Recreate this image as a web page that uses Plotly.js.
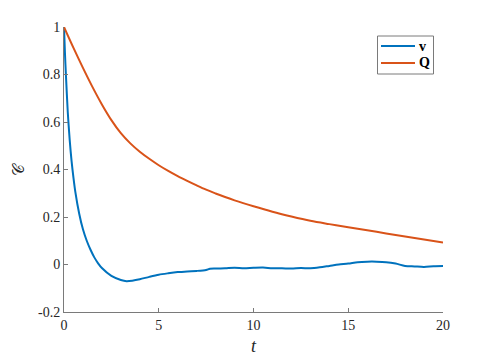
<!DOCTYPE html>
<html>
<head>
<meta charset="utf-8">
<script src="https://cdn.plot.ly/plotly-3.0.1.min.js"></script>
<style>
  body { margin: 0; background: #fff; }
  #plot { width: 491px; height: 362px; }
</style>
</head>
<body>
<div id="plot"></div>
<script>
// correlation of v over time
var tV = [0, 0.05, 0.1, 0.2, 0.3, 0.4, 0.5, 0.6, 0.8, 1.0, 1.2, 1.4, 1.6, 1.8, 2.0, 2.5, 3.0, 3.3, 3.6, 4.0, 4.5,
          5.0, 5.5, 6.0, 6.5, 7.0, 7.5, 7.7, 8.0, 8.5, 9.0, 9.5, 10.0, 10.5, 11.0, 11.5, 12.0, 12.5, 13.0,
          13.5, 14.0, 14.5, 15.0, 15.5, 16.0, 16.5, 17.0, 17.5, 18.0, 18.5, 19.0, 19.5, 20.0];
var cV = [1.0, 0.89, 0.8, 0.64, 0.525, 0.435, 0.365, 0.305, 0.215, 0.148, 0.10, 0.062, 0.03, 0.005, -0.015, -0.048, -0.065, -0.07, -0.068, -0.062, -0.052,
          -0.043, -0.037, -0.032, -0.029, -0.027, -0.023, -0.018, -0.017, -0.016, -0.014, -0.016, -0.014, -0.013, -0.016, -0.016, -0.017, -0.015, -0.016,
          -0.012, -0.006, 0.0, 0.004, 0.01, 0.012, 0.012, 0.01, 0.004, -0.006, -0.008, -0.01, -0.007, -0.006];

// correlation of Q over time
var tQ = [0, 0.5, 1, 1.5, 2, 2.5, 3, 3.5, 4, 4.5, 5, 5.5, 6, 6.5, 7, 7.5, 8, 8.5, 9, 10, 11, 12, 13, 14, 15, 16, 17, 18, 19, 20];
var cQ = [1.0, 0.912, 0.828, 0.748, 0.674, 0.608, 0.553, 0.510, 0.475, 0.445, 0.418, 0.394, 0.372, 0.352, 0.333, 0.315,
          0.299, 0.284, 0.270, 0.245, 0.222, 0.202, 0.184, 0.170, 0.157, 0.144, 0.131, 0.118, 0.105, 0.093];

var seriesNames = ['v', 'Q'];
var seriesColors = ['#0072BD', '#D95319'];

var xTicks = [0, 5, 10, 15, 20];
var yTicks = [-0.2, 0, 0.2, 0.4, 0.6, 0.8, 1];
var yTickText = ['-0.2', '0', '0.2', '0.4', '0.6', '0.8', '1'];

var serif = 'Liberation Serif';

var traceV = {
    x: tV,
    y: cV,
    mode: 'lines',
    name: seriesNames[0],
    line: {color: seriesColors[0], width: 2, shape: 'spline', smoothing: 0.8}
};

var traceQ = {
    x: tQ,
    y: cQ,
    mode: 'lines',
    name: seriesNames[1],
    line: {color: seriesColors[1], width: 2, shape: 'spline', smoothing: 1}
};

var data = [traceV, traceQ];

// legend drawn by hand so the box is as compact as the original
// (pixel positions converted to paper coords: plot area is 64..443 x 27..312)
var px = x => (x - 64) / 379;
var py = y => (312 - y) / 285;
var shapes = [
    {type: 'rect', xref: 'paper', yref: 'paper', x0: px(377.5), x1: px(433.5), y0: py(74), y1: py(36),
     line: {color: '#7a7a7a', width: 1}, fillcolor: '#fff'}
];
var annotations = [];
[46, 63].forEach(function (ly, i) {
    shapes.push({type: 'line', xref: 'paper', yref: 'paper', x0: px(381), x1: px(415), y0: py(ly), y1: py(ly),
                 line: {color: seriesColors[i], width: 2}});
    annotations.push({xref: 'paper', yref: 'paper', x: px(417), y: py(ly), xanchor: 'left', yanchor: 'middle',
                      text: '<b>' + seriesNames[i] + '</b>', showarrow: false,
                      font: {family: serif, size: 14, color: '#000'}});
});

var layout = {
    width: 491,
    height: 362,
    margin: {l: 64, r: 48, t: 27, b: 50},
    paper_bgcolor: '#fff',
    plot_bgcolor: '#fff',
    font: {family: serif, size: 14, color: '#262626'},
    showlegend: false,
    shapes: shapes,
    annotations: annotations,
    xaxis: {
        range: [0, 20],
        tickvals: xTicks,
        tickfont: {family: serif, size: 14},
        ticks: 'inside', ticklen: 4, tickcolor: '#7a7a7a',
        showline: true, linecolor: '#7a7a7a', linewidth: 1,
        showgrid: false, zeroline: false,
        title: {text: '<i>t</i>', font: {family: serif, size: 18}, standoff: 7}
    },
    yaxis: {
        range: [-0.2, 1],
        tickvals: yTicks,
        ticktext: yTickText,
        tickfont: {family: serif, size: 14},
        ticks: 'inside', ticklen: 4, tickcolor: '#7a7a7a',
        showline: true, linecolor: '#7a7a7a', linewidth: 1,
        showgrid: false, zeroline: false,
        title: {text: '𝒞', font: {family: serif, size: 16}, standoff: 9}
    }
};

Plotly.newPlot('plot', data, layout, {displayModeBar: false});
</script>
</body>
</html>
